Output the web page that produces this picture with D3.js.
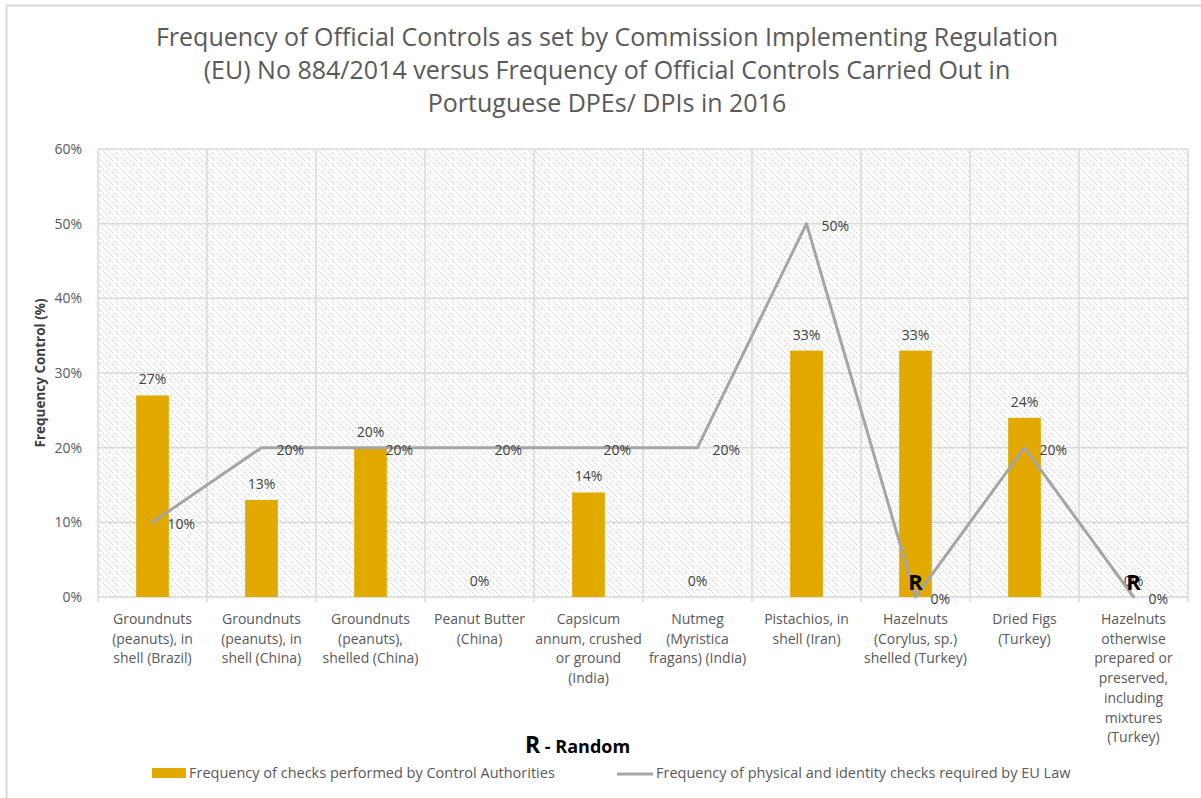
<!DOCTYPE html>
<html>
<head>
<meta charset="utf-8">
<script src="https://cdn.jsdelivr.net/npm/d3@7"></script>
<style>
  html, body { margin: 0; padding: 0; background: #fff; }
  svg { display: block; font-family: "Open Sans", "Noto Sans", sans-serif; }
</style>
</head>
<body>
<svg id="chart" width="1201" height="798"></svg>
<script>
// Product categories (x axis), one entry per line of the wrapped label
const categories = [
  ["Groundnuts", "(peanuts), in", "shell (Brazil)"],
  ["Groundnuts", "(peanuts), in", "shell (China)"],
  ["Groundnuts", "(peanuts),", "shelled (China)"],
  ["Peanut Butter", "(China)"],
  ["Capsicum", "annum, crushed", "or ground", "(India)"],
  ["Nutmeg", "(Myristica", "fragans) (India)"],
  ["Pistachios, in", "shell (Iran)"],
  ["Hazelnuts", "(Corylus, sp.)", "shelled (Turkey)"],
  ["Dried Figs", "(Turkey)"],
  ["Hazelnuts", "otherwise", "prepared or", "preserved,", "including", "mixtures", "(Turkey)"]
];

// Frequency of checks performed by Control Authorities (%)
const performed = [27, 13, 20, 0, 14, 0, 33, 33, 24, 0];
// Frequency of physical and identity checks required by EU Law (%)
const required = [10, 20, 20, 20, 20, 20, 50, 0, 20, 0];
// Categories where the required frequency is random
const randomFlags = [false, false, false, false, false, false, false, true, false, true];

const yTicks = [0, 10, 20, 30, 40, 50, 60];

const titleLines = [
  "Frequency of Official Controls as set by Commission Implementing Regulation",
  "(EU) No 884/2014 versus Frequency of Official Controls Carried Out in",
  "Portuguese DPEs/ DPIs in 2016"
];
const seriesNames = [
  "Frequency of checks performed by Control Authorities",
  "Frequency of physical and identity checks required by EU Law"
];

const barColor = "#e2a900";
const lineColor = "#a5a5a5";
const gridColor = "#d9d9d9";
const textColor = "#595959";
const labelColor = "#404040";

const svg = d3.select("#chart");

// Hatched plot background
const defs = svg.append("defs");
const pat = defs.append("pattern")
  .attr("id", "hatch")
  .attr("patternUnits", "userSpaceOnUse")
  .attr("width", 6).attr("height", 6);
pat.append("path")
  .attr("d", "M-1,-1 L7,7 M-1,5 L1,7 M5,-1 L7,1")
  .attr("stroke", "#cbcbcb")
  .attr("stroke-width", 1)
  .attr("stroke-dasharray", "2,1.2")
  .attr("fill", "none");

// Outer chart border
svg.append("rect")
  .attr("x", 6.5).attr("y", 5.5)
  .attr("width", 1220).attr("height", 820)
  .attr("fill", "#fff")
  .attr("stroke", gridColor)
  .attr("stroke-width", 2);

const plot = { left: 98, right: 1188, top: 149, bottom: 597 };

const x = d3.scaleBand()
  .domain(d3.range(categories.length))
  .range([plot.left, plot.right])
  .paddingInner(0).paddingOuter(0);

const y = d3.scaleLinear()
  .domain([0, 60])
  .range([plot.bottom, plot.top]);

// Title
svg.append("g")
  .selectAll("text")
  .data(titleLines)
  .join("text")
  .attr("x", 607)
  .attr("y", (d, i) => 46 + i * 33)
  .attr("text-anchor", "middle")
  .attr("fill", textColor)
  .style("font-size", "25px")
  .text(d => d);

// Plot background
svg.append("rect")
  .attr("x", plot.left).attr("y", plot.top)
  .attr("width", plot.right - plot.left)
  .attr("height", plot.bottom - plot.top)
  .attr("fill", "url(#hatch)");

// Horizontal gridlines
svg.append("g")
  .selectAll("line")
  .data(yTicks)
  .join("line")
  .attr("x1", plot.left).attr("x2", plot.right)
  .attr("y1", d => y(d)).attr("y2", d => y(d))
  .attr("stroke", gridColor)
  .attr("stroke-width", 1.5);

// Vertical gridlines at category boundaries (extend a little below the axis as tick marks)
const bounds = d3.range(categories.length + 1).map(i => plot.left + i * x.bandwidth());
svg.append("g")
  .selectAll("line")
  .data(bounds)
  .join("line")
  .attr("x1", d => d).attr("x2", d => d)
  .attr("y1", plot.top).attr("y2", plot.bottom + 5)
  .attr("stroke", gridColor)
  .attr("stroke-width", 1.5);

// Y axis labels
const yAxis = d3.axisLeft(y)
  .tickValues(yTicks)
  .tickFormat(d => d + "%")
  .tickSize(0)
  .tickPadding(16);
const yg = svg.append("g")
  .attr("transform", `translate(${plot.left},0)`)
  .call(yAxis);
yg.select(".domain").remove();
yg.selectAll("text")
  .attr("fill", textColor)
  .style("font-size", "14px")
  .style("font-family", "'Open Sans', sans-serif");

// Y axis title
svg.append("text")
  .attr("transform", `translate(45,${(plot.top + plot.bottom) / 2}) rotate(-90)`)
  .attr("text-anchor", "middle")
  .attr("fill", labelColor)
  .style("font-size", "13.5px")
  .style("font-weight", "bold")
  .text("Frequency Control (%)");

// X axis category labels
const xg = svg.append("g");
categories.forEach((lines, i) => {
  const cx = x(i) + x.bandwidth() / 2;
  const t = xg.append("text")
    .attr("text-anchor", "middle")
    .attr("fill", textColor)
    .style("font-size", "14px");
  lines.forEach((ln, j) => {
    t.append("tspan")
      .attr("x", cx)
      .attr("y", 624 + j * 19.7)
      .text(ln);
  });
});

// Bars
const barW = x.bandwidth() * 0.3;
svg.append("g")
  .selectAll("rect")
  .data(performed)
  .join("rect")
  .attr("x", (d, i) => x(i) + x.bandwidth() / 2 - barW / 2)
  .attr("y", d => y(d))
  .attr("width", barW)
  .attr("height", d => y(0) - y(d))
  .attr("fill", barColor);

// Bar value labels
svg.append("g")
  .selectAll("text")
  .data(performed)
  .join("text")
  .attr("x", (d, i) => x(i) + x.bandwidth() / 2)
  .attr("y", d => y(d) - 11)
  .attr("text-anchor", "middle")
  .attr("fill", labelColor)
  .style("font-size", "14px")
  .text(d => d + "%");

// Required-frequency line
const line = d3.line()
  .x((d, i) => x(i) + x.bandwidth() / 2)
  .y(d => y(d));
svg.append("path")
  .datum(required)
  .attr("d", line)
  .attr("fill", "none")
  .attr("stroke", lineColor)
  .attr("stroke-width", 3)
  .attr("stroke-linejoin", "round")
  .attr("stroke-linecap", "round");

// Line value labels (to the right of each point)
svg.append("g")
  .selectAll("text")
  .data(required)
  .join("text")
  .attr("x", (d, i) => x(i) + x.bandwidth() / 2 + 15)
  .attr("y", d => y(d) + 7)
  .attr("fill", labelColor)
  .style("font-size", "14px")
  .text(d => d + "%");

// "R" markers for random checks
svg.append("g")
  .selectAll("text")
  .data(randomFlags.map((f, i) => ({ f, i })).filter(d => d.f))
  .join("text")
  .attr("x", d => x(d.i) + x.bandwidth() / 2)
  .attr("y", y(0) - 7)
  .attr("text-anchor", "middle")
  .attr("fill", "#000")
  .style("font-size", "22px")
  .style("font-weight", "bold")
  .text("R");

// Random note
const note = svg.append("text")
  .attr("x", 525)
  .attr("y", 753)
  .attr("fill", "#000")
  .style("font-weight", "bold");
note.append("tspan").style("font-size", "23px").text("R");
note.append("tspan").style("font-size", "18px").text(" - Random");

// Legend
const leg = svg.append("g");
leg.append("rect")
  .attr("x", 152).attr("y", 768)
  .attr("width", 34).attr("height", 10)
  .attr("fill", barColor);
leg.append("text")
  .attr("x", 189).attr("y", 778)
  .attr("fill", textColor)
  .style("font-size", "14.5px")
  .text(seriesNames[0]);
leg.append("line")
  .attr("x1", 617).attr("x2", 653)
  .attr("y1", 774).attr("y2", 774)
  .attr("stroke", lineColor)
  .attr("stroke-width", 3);
leg.append("text")
  .attr("x", 656).attr("y", 778)
  .attr("fill", textColor)
  .style("font-size", "14.5px")
  .text(seriesNames[1]);
</script>
</body>
</html>
